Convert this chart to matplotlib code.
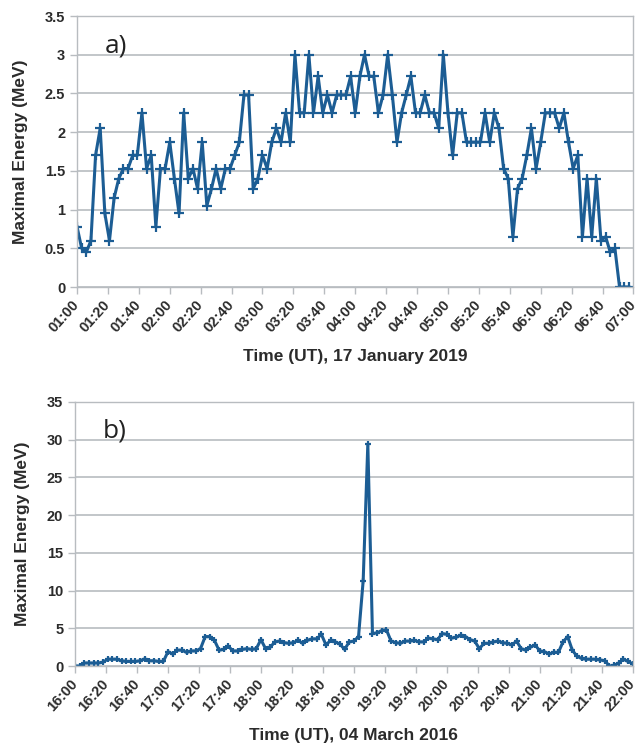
import matplotlib
matplotlib.use("Agg")
import matplotlib.pyplot as plt
import matplotlib.dates as mdates
import matplotlib.ticker as mticker
import numpy as np
import pandas as pd

# valores lidos do grafico a) 17/01/2019, amostragem de 3 min a partir de 01:00
energiaA = [0.78, 0.5, 0.45, 0.6, 1.7, 2.05, 0.95, 0.6, 1.15, 1.4,
            1.53, 1.53, 1.7, 1.7, 2.25, 1.53, 1.7, 0.78, 1.53, 1.53,
            1.87, 1.4, 0.95, 2.25, 1.4, 1.53, 1.27, 1.87, 1.05, 1.27,
            1.53, 1.27, 1.53, 1.53, 1.7, 1.87, 2.48, 2.48, 1.27, 1.4,
            1.7, 1.53, 1.87, 2.05, 1.87, 2.25, 1.87, 3.0, 2.25, 2.25,
            3.0, 2.25, 2.72, 2.25, 2.48, 2.25, 2.48, 2.48, 2.48, 2.72,
            2.25, 2.72, 3.0, 2.72, 2.72, 2.25, 2.48, 3.0, 2.48, 1.87,
            2.25, 2.48, 2.72, 2.25, 2.25, 2.48, 2.25, 2.25, 2.05, 3.0,
            2.25, 1.7, 2.25, 2.25, 1.87, 1.87, 1.87, 1.87, 2.25, 1.87,
            2.25, 2.05, 1.53, 1.4, 0.65, 1.27, 1.4, 1.7, 2.05, 1.53,
            1.87, 2.25, 2.25, 2.25, 2.05, 2.25, 1.87, 1.53, 1.7, 0.65,
            1.4, 0.65, 1.4, 0.6, 0.65, 0.45, 0.5, 0, 0, 0]

# valores lidos do grafico b) 04/03/2016, amostragem de 3 min a partir de 16:00
energiaB = [0, 0, 0.4, 0.4, 0.4, 0.4, 0.5, 0.9, 0.9, 0.9,
            0.7, 0.6, 0.6, 0.6, 0.7, 0.95, 0.7, 0.7, 0.6, 0.6,
            1.9, 1.6, 2.1, 2.1, 1.8, 2.0, 2.0, 2.3, 3.9, 3.9,
            3.4, 2.1, 2.2, 2.6, 2.0, 2.0, 2.2, 2.3, 2.2, 2.3,
            3.5, 2.3, 2.5, 3.2, 3.3, 3.1, 3.0, 3.1, 3.4, 3.0,
            3.4, 3.6, 3.6, 4.2, 2.8, 3.4, 3.2, 2.9, 2.2, 3.2,
            3.3, 3.9, 11.3, 29.4, 4.3, 4.4, 4.7, 4.8, 3.3, 3.1,
            3.0, 3.3, 3.3, 3.4, 3.2, 3.2, 3.7, 3.6, 3.5, 4.3,
            4.2, 3.7, 3.8, 4.1, 3.9, 3.5, 3.3, 2.3, 3.0, 3.0,
            3.2, 3.3, 3.1, 3.0, 2.8, 3.3, 2.3, 2.1, 2.5, 2.8,
            2.0, 1.9, 1.6, 1.8, 1.8, 3.2, 3.9, 2.1, 1.3, 1.0,
            0.9, 0.9, 0.9, 0.8, 0.7, 0, 0.1, 0.4, 0.9, 0.6, 0.3]

tempoA = pd.date_range("2019-01-17 01:00", periods=len(energiaA), freq="3min")
tempoB = pd.date_range("2016-03-04 16:00", periods=len(energiaB), freq="3min")

corLinha = "#1c5d94"
corGrade = "#b8bcc0"
corTexto = "#2b2b2b"
fonte = ["Liberation Sans Narrow", "Liberation Sans", "DejaVu Sans"]

fig = plt.figure(figsize=(6.44, 7.48), dpi=100)


def montaEixo(ax, tempo, energia, ymax, ystep, inicio, fim, xlabel, painel, ms):
    ax.plot(tempo, energia, "-", color=corLinha, lw=2.2, marker="+", markersize=ms,
            mew=1.6, mec=corLinha)
    ax.set_xlim(pd.Timestamp(inicio), pd.Timestamp(fim))
    ax.set_ylim(0, ymax)
    ax.yaxis.set_major_locator(mticker.MultipleLocator(ystep))
    ax.yaxis.set_major_formatter(mticker.FuncFormatter(lambda v, p: f"{v:g}"))
    ax.xaxis.set_major_locator(mdates.MinuteLocator(byminute=[0, 20, 40]))
    ax.xaxis.set_major_formatter(mdates.DateFormatter("%H:%M"))
    ax.grid(axis="y", color=corGrade, lw=1.2)
    ax.set_axisbelow(True)
    for lado in ["left", "right", "bottom", "top"]:
        ax.spines[lado].set_color(corGrade)
        ax.spines[lado].set_linewidth(1.0)
    ax.tick_params(axis="both", color=corGrade, length=5, width=1,
                   labelcolor=corTexto, labelsize=10.5)
    ax.tick_params(axis="x", pad=6)
    for t in ax.get_yticklabels():
        t.set_fontfamily(fonte)
        t.set_fontweight("bold")
    for t in ax.get_xticklabels():
        t.set_fontfamily(fonte)
        t.set_fontweight("bold")
        t.set_rotation(48)
        t.set_ha("right")
        t.set_va("center")
        t.set_rotation_mode("anchor")
    ax.set_ylabel("Maximal Energy (MeV)", fontsize=12.5, fontweight="bold",
                  family=fonte, color=corTexto, labelpad=12)
    ax.set_xlabel(xlabel, fontsize=12.5, fontweight="bold", family=fonte,
                  color=corTexto, labelpad=10)
    ax.text(0.05, 0.89, painel, transform=ax.transAxes, fontsize=19,
            color="#222222", family=["Open Sans", "DejaVu Sans"], va="center")


axA = fig.add_axes([0.1196, 0.6163, 0.8640, 0.3623])
montaEixo(axA, tempoA, energiaA, 3.5, 0.5, "2019-01-17 01:00", "2019-01-17 07:00",
          "Time (UT), 17 January 2019", "a)", 6.5)

axB = fig.add_axes([0.1165, 0.1096, 0.8660, 0.3530])
montaEixo(axB, tempoB, energiaB, 35, 5, "2016-03-04 16:00", "2016-03-04 22:00",
          "Time (UT), 04 March 2016", "b)", 5)

fig.savefig("out.png", dpi=100)
